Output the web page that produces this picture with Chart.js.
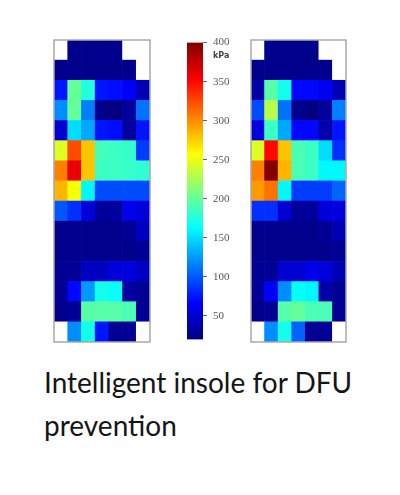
<!DOCTYPE html>
<html>
<head>
<meta charset="utf-8">
<script src="https://cdn.jsdelivr.net/npm/chart.js@4.4.0/dist/chart.umd.min.js"></script>
<style>
  body { margin: 0; background: #fff; }
  #page { position: relative; width: 400px; height: 495px; overflow: hidden; }
  canvas { position: absolute; }
  #caption {
    position: absolute; left: 44px; top: 361px;
    font-family: Lato, "Open Sans", sans-serif; font-size: 28px;
    line-height: 43px; color: #151515; white-space: nowrap;
  }
</style>
</head>
<body>
<div id="page">
  <canvas id="leftFoot" width="100" height="306" style="left:52px; top:38px;"></canvas>
  <canvas id="colorBar" width="64" height="322" style="left:187px; top:30px;"></canvas>
  <canvas id="rightFoot" width="99" height="306" style="left:249px; top:38px;"></canvas>
  <div id="caption">Intelligent insole for DFU<br>prevention</div>
</div>
<script>
// pressure in kPa, 15 rows (toe -> heel) x 7 columns, null = outside the insole
const columns = ['1', '2', '3', '4', '5', '6', '7'];

const leftPressure = [
    [null, 25, 25, 25, 25, null, null],
    [25, 25, 25, 25, 25, 25, null],
    [75, 200, 175, 75, 72, 65, 40],
    [120, 200, 115, 25, 20, 30, 110],
    [50, 150, 130, 75, 72, 30, 75],
    [245, 325, 280, 188, 185, 182, 90],
    [305, 360, 280, 185, 185, 183, 180],
    [285, 255, 160, 95, 95, 95, 95],
    [100, 85, 55, 30, 30, 60, 55],
    [25, 25, 25, 25, 25, 28, 45],
    [25, 25, 25, 25, 25, 25, 28],
    [28, 28, 45, 45, 55, 55, 45],
    [28, 70, 125, 170, 165, 32, 28],
    [25, 28, 195, 195, 195, 190, 28],
    [null, 120, 170, 75, 28, 28, null]
];

const rightPressure = [
    [null, 25, 25, 25, 25, null, null],
    [25, 25, 25, 25, 25, 25, null],
    [35, 195, 170, 70, 70, 62, 40],
    [95, 230, 110, 25, 20, 30, 115],
    [55, 185, 130, 70, 70, 35, 75],
    [245, 350, 280, 190, 185, 150, 85],
    [305, 398, 285, 190, 185, 160, 160],
    [295, 310, 160, 90, 90, 90, 105],
    [85, 85, 50, 30, 30, 55, 55],
    [25, 25, 25, 25, 25, 28, 40],
    [25, 25, 25, 25, 25, 25, 28],
    [28, 28, 50, 50, 60, 55, 40],
    [28, 65, 120, 165, 160, 35, 28],
    [25, 28, 195, 200, 190, 190, 28],
    [null, 120, 170, 105, 28, 28, null]
];

const colorRange = [20, 400];
const colorTicks = [50, 100, 150, 200, 250, 300, 350, 400];
const unitLabel = 'kPa';

// matplotlib style jet colormap
function jetRgb(t) {
    const c = x => Math.round(255 * Math.min(1, Math.max(0, x)));
    return [c(1.5 - Math.abs(4 * t - 3)), c(1.5 - Math.abs(4 * t - 2)), c(1.5 - Math.abs(4 * t - 1))];
}
function jet(v) {
    const t = (v - colorRange[0]) / (colorRange[1] - colorRange[0]);
    const [r, g, b] = jetRgb(Math.min(1, Math.max(0, t)));
    return `rgb(${r},${g},${b})`;
}

// outline around the insole grid
const frame = {
    id: 'frame',
    afterDraw(chart) {
        const { ctx, chartArea: a } = chart;
        ctx.save();
        ctx.strokeStyle = '#a9a9a9';
        ctx.lineWidth = 1.5;
        ctx.strokeRect(a.left, a.top, a.right - a.left, a.bottom - a.top);
        ctx.restore();
    }
};

function heatmap(canvasId, rows) {
    // stacked bars, bottom row first; each cell is one unit high
    const datasets = rows.slice().reverse().map(row => ({
        data: row.map(() => 1),
        backgroundColor: row.map(v => v == null ? '#ffffff' : jet(v)),
        borderWidth: 0,
        barPercentage: 1,
        categoryPercentage: 1
    }));
    new Chart(document.getElementById(canvasId), {
        type: 'bar',
        data: { labels: columns, datasets },
        options: {
            responsive: false,
            animation: false,
            devicePixelRatio: 1,
            layout: { padding: 2 },
            plugins: { legend: { display: false }, tooltip: { enabled: false } },
            scales: {
                x: { stacked: true, display: false },
                y: { stacked: true, display: false, min: 0, max: rows.length }
            }
        },
        plugins: [frame]
    });
}

heatmap('leftFoot', leftPressure);
heatmap('rightFoot', rightPressure);

// colour bar: one floating bar filled with the jet gradient
const unitText = {
    id: 'unitText',
    afterDraw(chart) {
        const { ctx, chartArea } = chart;
        const y = chart.scales.y.getPixelForValue(colorRange[1]);
        ctx.save();
        ctx.font = 'bold 8px "DejaVu Sans", sans-serif';
        ctx.fillStyle = '#444';
        ctx.textBaseline = 'middle';
        ctx.fillText(unitLabel, chartArea.right + 10, y + 13);
        ctx.restore();
    }
};

new Chart(document.getElementById('colorBar'), {
    type: 'bar',
    data: {
        labels: [unitLabel],
        datasets: [{
            data: [colorRange],
            borderWidth: 0,
            barPercentage: 1,
            categoryPercentage: 1,
            backgroundColor(ctx) {
                const area = ctx.chart.chartArea;
                if (!area) return '#000080';
                const g = ctx.chart.ctx.createLinearGradient(0, area.bottom, 0, area.top);
                [0, 0.125, 0.375, 0.625, 0.875, 1].forEach(t => {
                    const [r, gr, b] = jetRgb(t);
                    g.addColorStop(t, `rgb(${r},${gr},${b})`);
                });
                return g;
            }
        }]
    },
    options: {
        responsive: false,
        animation: false,
        devicePixelRatio: 1,
        layout: { padding: { top: 10, bottom: 10, left: 0, right: 0 } },
        plugins: { legend: { display: false }, tooltip: { enabled: false } },
        scales: {
            x: { display: false },
            y: {
                position: 'right',
                min: colorRange[0],
                max: colorRange[1],
                afterBuildTicks: axis => { axis.ticks = colorTicks.map(v => ({ value: v })); },
                afterFit: axis => { axis.width = 48; },
                border: { display: false },
                grid: { drawOnChartArea: false, tickLength: 4, color: '#666', lineWidth: 1 },
                ticks: {
                    padding: 6,
                    color: '#555',
                    font: { family: '"Liberation Serif", serif', size: 11 }
                }
            }
        }
    },
    plugins: [unitText]
});
</script>
</body>
</html>
